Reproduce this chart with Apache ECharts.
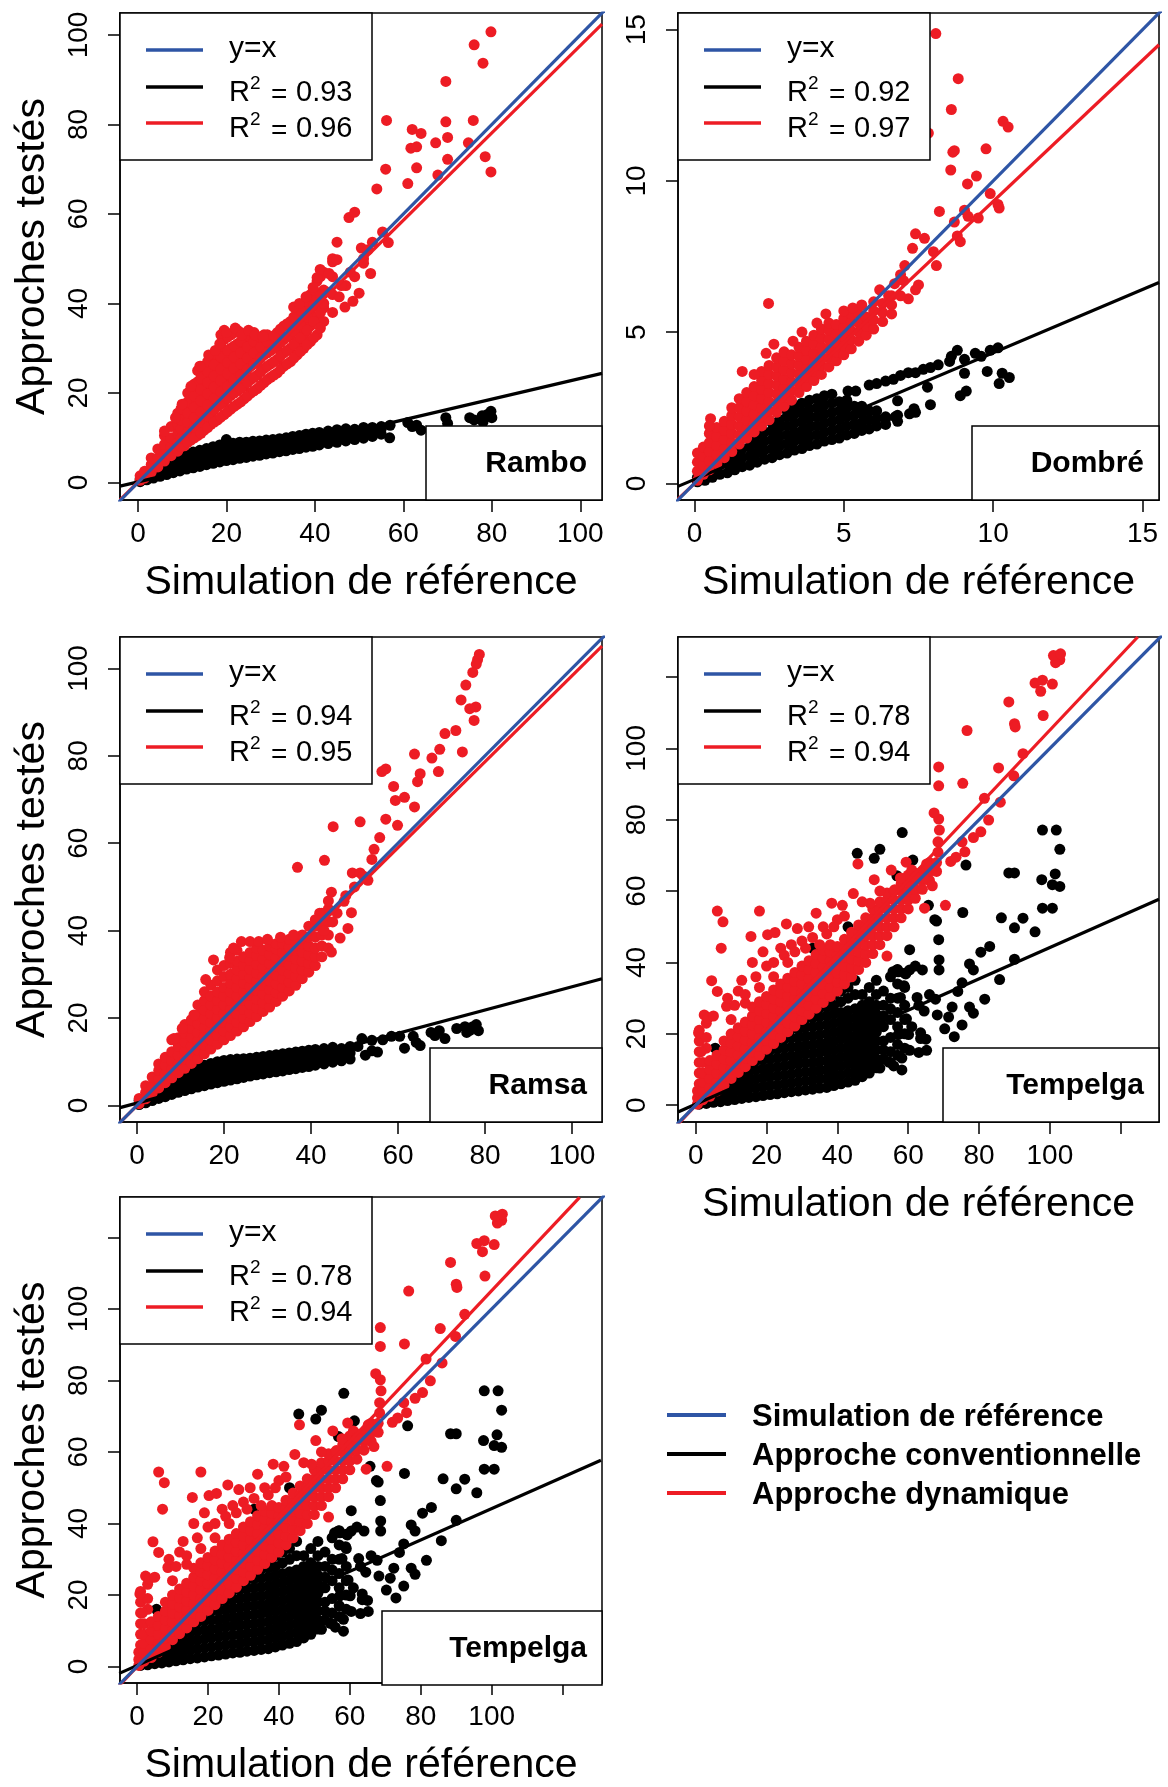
<!DOCTYPE html>
<html><head><meta charset="utf-8">
<script src="https://cdn.jsdelivr.net/npm/echarts@6/dist/echarts.min.js"></script>
<style>html,body{margin:0;padding:0;background:#fff}#c{width:1168px;height:1787px}</style>
</head><body><div id="c"></div>
<script>
const FONT = '"Liberation Sans", Arial, Helvetica, sans-serif';
const RED = '#ed1c24', BLUE = '#2e55a5', BLACK = '#000000';

// ---------- tick values ----------
const ticks100 = [0, 20, 40, 60, 80, 100];
const ticks15 = [0, 5, 10, 15];
const ticks120 = [0, 20, 40, 60, 80, 100, 120];
const identityLine = [[-20, -20], [200, 200]];

// ---------- Rambo ----------
// columns: [x, y1, y2, ...]
const ramboDynCols = [
 [0.5,0.5,1.5],[1.5,1,2.5],[3,2.3,4,5.5],[4.5,3.5,5.5,7.5],[6,4.8,6.5,8.5,10.5],[7.5,6,8,10,12.5],
 [9,7,9,11,13,15.5],[10.5,8.2,10.5,12.5,14.5,17],[12,9.5,11.5,13.5,16,18.5,21],[13.5,10.5,13,15,17.5,20,22.5,25],
 [15,11.7,14,16.5,19,21.5,24,26],[16.5,13,15.5,18,20.5,23,25.5,28],[18,14,17,19.5,22,24.5,27,29.5],
 [19.5,15.2,18,21,23.5,26,29,32,34],[21,16.4,19.5,22,25,27.5,30,33],[22.5,17.5,20.5,23.5,26,28.5,31,34],
 [24,18.7,21.5,24.5,27,29.5,32],[25.5,20,23,26,28.5,31,33.5],[27,21,24,27,29.5,32],[28.5,22.3,25.5,28.5,31,33],
 [30,23.5,26.5,29.5,32],[31.5,24.5,27.5,30.5,33.5],[33,26,29,32,35],[34.5,27,30,33,36],[36,28.5,31.5,34.5,38],
 [37.5,30,33,36,39],[39,31.5,35,38,42],[40.5,33,37,41,45],[42,36,39,43,47],[44,38,42,46,50]
];
const ramboDynCols2 = [
 [9.75,8,10,12,14,16.5],[11.25,9,11.3,13.5,15.5,18,20],[12.75,10,12.3,14.5,16.8,19.3,22],
 [14.25,11,13.5,15.8,18.3,20.8,23.3,26],[15.75,12.3,14.8,17.3,19.8,22.3,24.8,27],[17.25,13.5,16.3,18.8,21.3,23.8,26.3,28.8],
 [18.75,14.6,17.5,20.3,22.8,25.3,28,30.5,33],[20.25,15.8,18.8,21.5,24.3,26.8,29.5,32.5],[21.75,17,20,22.8,25.5,28,30.5,33.5],
 [23.25,18,21,24,26.5,29,31.5,33.5],[24.75,19.3,22.3,25.3,27.8,30.3,32.8],[26.25,20.5,23.5,26.5,29,31.5,33.5],
 [27.75,21.7,24.8,27.8,30.3,32.5],[29.25,23,26,29,31.5,33],[30.75,24,27,30,32.8],[32.25,25.3,28.3,31.3,34.3],
 [33.75,26.5,29.5,32.5,35.5],[35.25,27.8,30.8,33.8,37],[36.75,29.3,32.3,35.3,38.5],[38.25,30.8,34,37,40.5],
 [39.75,32.3,36,39.5,43],[41.25,34.5,38,42,46]
];
const ramboDynOut = [
 [8.5,14.5],[6,11.5],[10,17.5],[12,21.5],[14,26],[16,28.5],[17.5,29.5],[18.5,31],[20,33.5],[22,34.5],[23.5,33],[25,34],
 [26.5,33],[28.3,32.6],[35.2,39.2],[36.5,40],[38,41.5],[39.6,43.6],[40.5,45.8],[41.2,47.6],[43.2,46.7],[44,49.3],[45,49.8],
 [45,53.7],[47.7,59.2],[49,60.4],[50.5,52.4],[52.6,46.7],[50,42.3],[48.6,40.5],[46.8,39.2],[45.5,41.5],[47,44],[49,46],
 [51,49],[53,53.7],[55.3,56],[56.6,53.6],[54,65.6],[56,70],[56.2,80.9],[61,66.8],[61.7,74.7],[62,78.9],[63,75],[63,70.3],
 [64,78],[67.3,75.9],[67.8,68.7],[69.6,89.6],[69.6,80.6],[70,77.1],[70,72.2],[74.7,75.9],[75.8,80.9],[76,97.8],[78,93.7],
 [78.5,72.8],[79.8,69.4],[79.8,100.7],[42,40],[43.5,42.5],[46,44],[48,47],[51,50],[52,52]
];
const ramboConvCols = [
 [0.5,0.2,0.8],[2,0.6,1.3],[3.5,1,1.8],[5,1.4,2.5,3.3],[6.5,1.8,2.8,3.8],[8,2.2,3.2,4.4],[9.5,2.6,3.6,4.8,5.8],
 [11,3,4,5.2,6.3],[12.5,3.3,4.4,5.5,6.8],[14,3.6,4.8,6,7.2],[15.5,4,5,6.2,7.6],[17,4.3,5.4,6.6,8],[18.5,4.6,5.7,7,8.4],
 [20,4.9,6,7.3,8.7,9.6],[21.5,5.1,6.3,7.6,8.8],[23,5.4,6.5,7.8,9],[24.5,5.6,6.8,8,9],[26,5.9,7,8.2,9.2],
 [27.5,6.1,7.3,8.4,9.3],[29,6.4,7.5,8.6,9.5],[30.5,6.6,7.8,8.9,9.6],[32,6.9,8,9.1,9.8],[33.5,7.1,8.3,9.4,10],
 [35,7.4,8.5,9.6,10.3],[36.5,7.6,8.8,9.8,10.5],[38,7.9,9,10,10.8],[39.5,8.1,9.2,10.3,11],[41,8.4,9.4,10.5,11.2],
 [43,8.7,9.8,10.8,11.5],[45,9,10,11,11.8],[47,9.3,10.4,11.5,12],[49,9.6,10.8,11.9],[51,9.9,11,12.3],[53,10.3,11.5,12.3],
 [55,10.8,12,12.5]
];
const ramboConvOut = [
 [56.9,10],[57,12.8],[61,13.4],[62,12.5],[63,12.8],[64,11.7],[69.6,14.5],[70,13.2],[75,14.5],[76,14],[77.8,14.9],
 [78,13.5],[79.8,15.9],[80,14.5],[79,15.2]
];
const ramboFitConv = [[-4.05, -0.8], [104.9, 24.4]];
const ramboFitDyn = [[-4.05, -3.9], [104.9, 102.4]];

// ---------- Dombré ----------
const dombreDynCols = [
 [0.1,0.1,0.4,0.7,1.0],[0.3,0.3,0.6,0.9,1.2],[0.5,0.45,0.75,1.05,1.35,1.65],[0.75,0.65,0.95,1.25,1.55,1.85],
 [1.0,0.85,1.15,1.45,1.75,2.05],[1.25,1.05,1.35,1.65,1.95,2.25,2.5],[1.5,1.3,1.6,1.9,2.2,2.5,2.8],
 [1.75,1.5,1.8,2.1,2.4,2.7,3.0],[2.0,1.7,2.0,2.3,2.6,2.9,3.2],[2.25,1.9,2.2,2.5,2.8,3.1,3.4,3.7],
 [2.5,2.1,2.4,2.7,3.0,3.3,3.6,3.9],[2.75,2.35,2.65,2.95,3.25,3.55,3.85,4.15],[3.0,2.55,2.85,3.15,3.45,3.75,4.05,4.35],
 [3.25,2.75,3.05,3.35,3.65,3.95,4.25],[3.5,3.0,3.3,3.6,3.9,4.2,4.5],[3.75,3.2,3.5,3.8,4.1,4.4,4.7],
 [4.0,3.4,3.7,4.0,4.3,4.6,4.9],[4.25,3.6,3.9,4.2,4.5,4.8,5.1],[4.5,3.85,4.15,4.45,4.75,5.05,5.3],
 [4.75,4.05,4.35,4.65,4.95,5.25],[5.0,4.25,4.55,4.85,5.15,5.45],[5.25,4.45,4.75,5.05,5.35,5.6],[5.5,4.7,5.0,5.3,5.6],
 [5.75,4.9,5.2,5.5],[6.0,5.1,5.4,5.7],[6.3,5.35,5.65,5.95],[6.6,5.6,5.9,6.2]
];
const dombreDynOut = [
 [8.08,14.87],[8.83,13.38],[8.6,12.36],[10.33,11.97],[10.5,11.78],[7.83,11.58],[8.65,10.95],[8.7,11.0],[9.76,11.06],
 [8.58,10.36],[9.44,10.16],[9.14,9.9],[8.2,8.99],[9.9,9.58],[10.16,9.22],[10.2,9.1],[8.7,8.64],[9.04,9.03],[9.16,8.83],
 [9.5,8.77],[8.8,8.18],[8.9,7.99],[7.4,8.25],[7.7,8.1],[7.3,7.77],[8.0,7.66],[8.1,7.2],[7.04,7.2],[7.5,6.56],[7.4,6.4],
 [7.16,6.1],[6.9,6.2],[6.5,6.2],[2.48,5.95],[6.2,6.4],[6.7,6.6],[6.9,6.9],[7.0,6.7],[1.6,3.7],[2.0,3.6],[2.66,4.6],
 [2.4,4.3],[0.54,2.14],[0.5,1.9],[3.3,4.7],[3.6,5.0],[4.1,5.3],[4.4,5.6],[5.0,5.7],[5.3,5.8],[5.6,5.9],[6.0,6.0]
];
const dombreConvCols = [
 [0.1,0.05,0.2],[0.35,0.1,0.3],[0.6,0.2,0.45],[0.85,0.3,0.6],[1.1,0.35,0.65,0.95],[1.35,0.45,0.75,1.05],
 [1.6,0.55,0.85,1.15],[1.85,0.6,0.9,1.2,1.45],[2.1,0.7,1.0,1.3,1.6],[2.35,0.8,1.1,1.4,1.7],[2.6,0.85,1.15,1.45,1.75,2.0],
 [2.85,0.95,1.25,1.55,1.85,2.1],[3.1,1.0,1.3,1.6,1.9,2.2,2.4],[3.35,1.1,1.4,1.7,2.0,2.3,2.55],
 [3.6,1.15,1.45,1.75,2.05,2.35,2.65],[3.85,1.25,1.55,1.85,2.15,2.45,2.75],[4.1,1.3,1.6,1.9,2.2,2.5,2.8],
 [4.35,1.4,1.7,2.0,2.3,2.6,2.9],[4.6,1.45,1.75,2.05,2.35,2.65,2.95],[4.85,1.5,1.8,2.1,2.4,2.7],
 [5.1,1.6,1.9,2.2,2.5,2.75],[5.35,1.65,1.95,2.25,2.55],[5.6,1.75,2.0,2.3,2.55],[5.85,1.8,2.1,2.4],[6.1,1.9,2.15,2.4],
 [6.4,1.95,2.2],[6.8,2.05,2.25],[7.2,2.3]
];
const dombreConvOut = [
 [5.14,3.05],[5.4,3.05],[5.85,3.25],[6.1,3.3],[6.4,3.38],[6.66,3.44],[6.9,3.57],[7.16,3.66],[7.4,3.66],[7.66,3.77],
 [7.9,3.83],[8.16,3.92],[8.54,4.03],[8.8,4.4],[8.6,4.2],[9.04,4.1],[9.4,4.3],[9.6,4.2],[9.9,4.4],[10.16,4.48],[9.8,3.7],
 [9.04,3.64],[10.2,3.3],[10.3,3.64],[10.54,3.5],[8.9,2.9],[9.1,3.05],[7.9,2.6],[7.35,2.47],[7.4,2.35],[6.8,2.73],
 [7.8,3.18],[6.72,2.2],[6.4,2.14]
];
const dombreFitConv = [[-0.55, -0.1], [15.55, 6.64]];
const dombreFitDyn = [[-0.55, -0.52], [15.55, 14.5]];

// ---------- Ramsa ----------
const ramsaDynCols = [
 [0.5,0.4,1.6],[2,1.5,3,4.5],[3.5,2.8,4.5,6.5],[5,4,6,8,9.5],[6.5,5.2,7.2,9.2,11],[8,6.3,8.3,10.3,12.3,15],
 [9.5,7.5,9.5,11.5,13.5,15.5],[11,8.5,10.5,12.5,14.5,16.5,18.5],[12.5,9.6,11.6,13.6,15.6,17.6,19.6],
 [14,10.7,12.7,14.7,16.7,18.7,20.7,23],[15.5,11.8,13.8,15.8,17.8,19.8,21.8,24,26],[17,12.9,15,17,19,21,23,25,27.5],
 [18.5,14,16,18,20,22,24,26,28.5,31],[20,15,17,19,21,23,25,27,29.5,32],[21.5,16,18,20,22,24,26,28,30,32.5,35],
 [23,17,19,21,23,25,27,29,31,33,35.5],[24.5,18,20,22,24,26,28,30,32,34],[26,19.2,21.2,23.2,25.2,27.2,29.2,31.2,33.2,35],
 [27.5,20.3,22.3,24.3,26.3,28.3,30.3,32.3,34.3,36],[29,21.5,23.5,25.5,27.5,29.5,31.5,33.5,35.5],
 [30.5,22.5,24.5,26.5,28.5,30.5,32.5,34.5,36.5],[32,23.8,25.8,27.8,29.8,31.8,33.8,35.8,37],
 [33.5,25,27,29,31,33,35,37],[35,26.2,28.2,30.2,32.2,34.2,36.2,38],[36.5,27.5,29.5,31.5,33.5,35.5,37.5],
 [38,29,31,33,35,37,39],[39.5,30.5,32.5,34.5,36.5,38.5,41],[41,32,34,36,38.5,41],[42.5,34,36.5,39,42,44],[44,36,39,42,45]
];
const ramsaDynOut = [
 [78.7,103.2],[78.3,102],[78,101],[77.2,99.1],[75.6,96.2],[74.5,92.8],[77.9,91.2],[76.5,90.8],[77.5,88.1],[74.8,80.9],
 [73.3,85.8],[70.8,85.1],[69.6,81.5],[67.8,79.5],[69.3,76.4],[65.1,75.9],[64.5,74.1],[63.8,80.4],[63.8,68.3],[61.5,70.5],
 [57.2,77],[56.3,76.4],[59,73],[59.4,69.8],[59.9,64.1],[57.2,65.5],[55.8,61.3],[54.5,58.6],[54,56.3],[51.3,64.9],
 [45.1,63.8],[43.1,56.1],[36.9,54.5],[49.5,53.2],[51.3,53.2],[53.1,51.5],[44.7,48.8],[44,46.8],[47.6,46.7],[49.3,44.1],
 [48.5,40.5],[46.7,38.3],[44.7,35.1],[46,44],[48,48],[50,50],[52,52.5],[42,44],[41,42.5],[43,40],[45,42],[10.4,17.6],
 [8.5,15.3],[13.1,20.7],[15.8,28.8],[17.6,33.3],[21.3,33.8],[22.2,36],[24,37.5],[26,37.5],[28,37.5],[30,38],[33,38.5],
 [36,39]
];
const ramsaConvCols = [
 [0.5,0.2,1.2],[2,0.6,1.8],[3.5,1.1,2.5],[5,1.6,3,4.2],[6.5,2,3.4,5],[8,2.5,4,5.5],[9.5,3,4.4,6],[11,3.4,4.8,6.4],
 [12.5,3.8,5.2,6.8,8],[14,4.2,5.6,7.2,8.6],[15.5,4.5,6,7.6,9.2],[17,4.9,6.4,8,9.6],[18.5,5.2,6.7,8.4,10],
 [20,5.5,7,8.6,10.3],[21.5,5.8,7.3,8.9,10.5],[23,6.1,7.6,9.2,10.6],[24.5,6.4,7.9,9.4,10.7],[26,6.7,8.2,9.7,10.8],
 [27.5,7,8.4,9.9,11],[29,7.2,8.7,10.1,11.2],[30.5,7.5,9,10.4,11.4],[32,7.7,9.2,10.6,11.6],[33.5,7.9,9.4,10.8,11.8],
 [35,8.2,9.6,11,12],[36.5,8.4,9.9,11.3,12.2],[38,8.7,10.1,11.5,12.4],[39.5,8.9,10.3,11.7,12.6],[41,9.2,10.5,11.9,12.8],
 [43,9.5,10.9,12.2,13],[45,9.9,11.2,12.6,13.3],[47,10.2,11.6,13],[49,10.6,12,13.5]
];
const ramsaConvOut = [
 [50.8,13.5],[51.7,15.3],[54,14.9],[55.3,12.2],[56.5,15],[58.5,15.8],[60.4,15.8],[61.5,13.1],[63.5,15.8],[64.2,14.4],
 [65.1,13.7],[67.6,16.7],[69.5,17.1],[70.8,15.3],[68.5,16],[73.5,17.6],[75.4,18],[75.8,16.7],[77.2,18],[78,18.5],
 [78.5,17.1],[76.5,17.2],[52.5,11.5],[54,12.5]
];
const ramsaFitConv = [[-3.9, -0.5], [106.9, 29]];
const ramsaFitDyn = [[-3.9, -3.9], [106.9, 105.1]];

// ---------- Tempelga ----------
const tempDynCols = [
 [0.5,0.3,2,4],[1,6,9,12,15,18,21],[2,1.5,4,6.5,9,12],[3,16,19,23],[4,2.5,5,7.5,10,12.5],[6,4,6.5,9,11.5,14],
 [8,5.5,8,10.5,13,15.5,18],[10,7.5,10,12.5,15,17.5,20],[12,9.2,11.7,14.2,16.7,19.2,21.7],[14,10.8,13.3,15.8,18.3,20.8,23.3],
 [16,12.5,15,17.5,20,22.5,25,27.5],[18,14,16.5,19,21.5,24,26.5,29],[20,15.7,18.2,20.7,23.2,25.7,28.2,30.5],
 [22,17.3,19.8,22.3,24.8,27.3,29.8,32.3],[24,19,21.5,24,26.5,29,31.5,34],[26,20.6,23.1,25.6,28.1,30.6,33.1,35.6],
 [28,22.2,24.7,27.2,29.7,32.2,34.7,37.2],[30,24,26.5,29,31.5,34,36.5,39],[32,25.5,28,30.5,33,35.5,38,40.5],
 [34,27.2,29.7,32.2,34.7,37.2,39.7,42.2],[36,28.8,31.3,33.8,36.3,38.8,41.3,43.5],[38,30.5,33,35.5,38,40.5,43,45],
 [40,32,34.5,37,39.5,42,44.5],[42,34,36.5,39,41.5,44,46.5],[44,36,38.5,41,43.5,46,48.5],[46,38,40.5,43,45.5,48,50.5],
 [48,40,42.5,45,47.5,50,52.5],[50,42.5,45,47.5,50,52.5,55],[52,45,47.5,50,52.5,55,57],[54,47.5,50,52.5,55,57.5,59.5],
 [56,50,52.5,55,57.5,60],[58,52.5,55,57.5,60,62],[60,55,57.5,60,62.5,64.5],[62,58,60.5,63,65],[64,60.5,63,65.5],
 [66,63,65.5,68],[68,65.5,68]
];
const tempDynOut = [
 [102.1,125.9],[102.8,124.8],[101.6,124],[101,126],[103,126.5],[95.8,118.3],[97.9,119.1],[97.4,116],[100.7,118],
 [98.1,109.2],[88.4,113],[90,106.9],[90.2,106],[76.6,105],[92.4,98.5],[89.8,92.3],[85.5,94.5],[75.4,90.2],[68.6,94.8],
 [68.6,89.5],[81.5,86],[86,84.9],[82.7,79.9],[80.5,76.6],[78.4,75],[75.2,73.8],[76,71],[72,68.3],[73.5,69.5],[68.6,80.2],
 [67.3,81.9],[68.8,77.1],[68.4,73.8],[68.4,70.9],[65.2,67.6],[66.8,61.5],[70.5,56],[64.6,55.2],[64.4,63.7],[61,65.9],
 [59.4,68.1],[57.8,63.7],[56.2,60.4],[54,41.8],[6.1,54.4],[7.7,51.4],[7.2,44],[4.5,34.9],[6.1,31.9],[18,54.4],[15.6,47.3],
 [20.3,47.8],[22.4,48.4],[25.6,50.8],[28.7,49.5],[31.9,50],[34,53.8],[38.4,56.6],[41.4,56],[44.5,59.3],[45.8,67.6],
 [50.4,63.2],[49.2,56.6],[55.2,65.9],[0.8,20.3],[2.4,25.3],[3.5,24.5],[1.5,15],[8.7,27.7],[11,28],[14,28.6],[12,32],
 [17,36],[20,39],[24,44],[27,45],[30,46],[36,50],[40,52],[47,57],[52,60],[62,64],
 [5,25],[9,30],[13,35],[16,40],[19,43],[22,40],[25,42],[28,43],[31,44],[33,47],[35,45],[37,48],[39,50],[42,53],
 [10,24],[18,33],[26,40],[14,31],[22,36]
];
const tempConvCols = [
 [1,0.3,1.2],[3,0.5,2,3.5],[5,0.8,2.5,4.5],[7,1,3,5,6.5],[9,1.3,3.5,5.5,7.5],[11,1.6,4,6.3,8.6],[13,1.9,4.2,6.6,9,11.3],
 [15,2.2,4.6,7,9.5,12,13.8],[17,2.4,4.9,7.4,9.9,12.4,15],[19,2.7,5.2,7.7,10.2,12.7,15.2,17.5],
 [21,3,5.5,8,10.5,13,15.5,18],[23,3.2,5.7,8.2,10.7,13.2,15.7,18.2,20.7],[25,3.5,6,8.5,11,13.5,16,18.5,21,23],
 [27,3.8,6.3,8.8,11.3,13.8,16.3,18.8,21.3,24],[29,4,6.5,9,11.5,14,16.5,19,21.5,24,26.5],
 [31,4.3,6.8,9.3,11.8,14.3,16.8,19.3,21.8,24.3,27],[33,4.5,7,9.5,12,14.5,17,19.5,22,24.5,27,29.5],
 [35,4.8,7.3,9.8,12.3,14.8,17.3,19.8,22.3,24.8,27.3,30],[37,5,7.5,10,12.5,15,17.5,20,22.5,25,27.5,30,32],
 [39,5.5,8,10.5,13,15.5,18,20.5,23,25.5,28,31],[41,6,8.5,11,13.5,16,18.5,21,23.5,26,29,32],
 [43,6.5,9,11.5,14,16.5,19,21.5,24,26.5,30,33],[45,7,9.5,12,14.5,17,19.5,22,24.5,27,31,35],
 [47,8,10.5,13,15.5,18,20.5,23,25.5,28,31],[49,9,11.5,14,16.5,19,21.5,24,26.5,29,33],
 [51,10.5,13,15.5,18,20.5,23,25.5,28,31,35],[53,13,15.5,18,22,25,28,32],[55,12,15,19,24,27,30,36],
 [57,14,17,22,26,30,34,38],[59,16,20,24,28,33,37]
];
const tempConvOut = [
 [45.6,70.6],[52,71.7],[50.4,69.2],[58.3,76.4],[61.3,68.7],[56.8,64.3],[65.7,56],[68,51.6],[68.6,46.4],[68.7,40.7],
 [68.7,37.9],[67.5,52],[76.3,67.3],[75.4,54],[86.3,52.5],[90,49.7],[92.4,52.4],[88.4,65.1],[90,65.1],[97.9,77.1],
 [101.8,77.1],[102.8,71.7],[97.7,63.2],[101.5,64.8],[100.7,61.8],[102.8,61.3],[97.9,55.2],[100.7,55.2],[95.8,48.6],
 [90,40.9],[85.8,35.2],[83,44.5],[80.5,42.9],[78.4,37.9],[77.3,39.6],[75.2,34.3],[74,31.9],[77.3,27.5],[81.6,29.7],
 [78.4,25.8],[75.2,22.5],[73,19.2],[70.3,21.4],[71.4,24.7],[72.4,27.5],[68.2,25.3],[64.5,26.4],[63,28],[67.7,29.7],
 [66,31],[63.5,20.3],[63.5,18.7],[65,18.5],[63,14.8],[60.4,15.4],[58.2,13.2],[58.2,9.9],[55.9,11],[54.5,12.1],[52,10.4],
 [64,37.9],[60.4,37.9],[59.3,36.8],[57.2,37.4],[57.8,30.2],[58.8,33.5],[62.5,30.2],[59.5,24.2],[60.1,19.8],[57.2,19.8],
 [61,22],[65.2,15.4],[60.4,43.6],[62,39],[33,44],[43,50],[55.7,37.4],[56.8,37.9],[5.5,16]
];
const tempFitConv = [[-5, -1.9], [130.8, 57.7]];
const tempFitDyn = [[-5, -5.3], [124.8, 131.2]];

// ---------- texts ----------
const xTitle = 'Simulation de référence';
const yTitle = 'Approches testés';
const legendTexts = ['Simulation de référence', 'Approche conventionnelle', 'Approche dynamique'];

function cols(arr) {
  const out = [];
  arr.forEach(r => { for (let i = 1; i < r.length; i++) out.push([r[0], r[i]]); });
  return out;
}

const panels = [
  { label: 'Rambo', g: {left:120, top:13, width:482, height:487}, xr:[-4.05,104.9], yr:[-3.9,104.9],
    tx: ticks100, lx: ticks100, ty: ticks100, ly: ticks100,
    conv: cols(ramboConvCols).concat(ramboConvOut),
    dyn: cols(ramboDynCols).concat(cols(ramboDynCols2), ramboDynOut),
    fc: ramboFitConv, fd: ramboFitDyn, r2: ['0.93', '0.96'], bw: 176, xt: true, yt: true },
  { label: 'Dombré', g: {left:678, top:13, width:481, height:487}, xr:[-0.55,15.55], yr:[-0.55,15.55],
    tx: ticks15, lx: ticks15, ty: ticks15, ly: ticks15,
    conv: cols(dombreConvCols).concat(dombreConvOut), dyn: cols(dombreDynCols).concat(dombreDynOut),
    fc: dombreFitConv, fd: dombreFitDyn, r2: ['0.92', '0.97'], bw: 187, xt: true, yt: false },
  { label: 'Ramsa', g: {left:120, top:637, width:482, height:485}, xr:[-3.9,106.9], yr:[-3.8,107.2],
    tx: ticks100, lx: ticks100, ty: ticks100, ly: ticks100,
    conv: cols(ramsaConvCols).concat(ramsaConvOut), dyn: cols(ramsaDynCols).concat(ramsaDynOut),
    fc: ramsaFitConv, fd: ramsaFitDyn, r2: ['0.94', '0.95'], bw: 172, xt: false, yt: true },
  { label: 'Tempelga', g: {left:678, top:637, width:481, height:485}, xr:[-5,130.8], yr:[-4.7,131.2],
    tx: ticks120, lx: ticks100, ty: ticks120, ly: ticks100,
    conv: cols(tempConvCols).concat(tempConvOut), dyn: cols(tempDynCols).concat(tempDynOut),
    fc: tempFitConv, fd: tempFitDyn, r2: ['0.78', '0.94'], bw: 216, xt: true, yt: false },
  { label: 'Tempelga', g: {left:120, top:1197, width:482, height:488}, xr:[-4.8,131.1], yr:[-4.6,131.3],
    tx: ticks120, lx: ticks100, ty: ticks120, ly: ticks100,
    conv: cols(tempConvCols).concat(tempConvOut), dyn: cols(tempDynCols).concat(tempDynOut),
    fc: tempFitConv, fd: tempFitDyn, r2: ['0.78', '0.94'], bw: 220, xt: true, yt: true }
];

const grid = [], xAxis = [], yAxis = [], series = [], graphic = [];
const axisLineStyle = {color: BLACK, width: 1.5};
panels.forEach((p, i) => {
  grid.push(Object.assign({show: true, borderColor: BLACK, borderWidth: 1.5, backgroundColor: 'transparent'}, p.g));
  xAxis.push({
    gridIndex: i, type: 'value', min: p.xr[0], max: p.xr[1],
    axisLine: {show: true, onZero: false, lineStyle: axisLineStyle},
    axisTick: {show: true, inside: false, length: 12, lineStyle: axisLineStyle, customValues: p.tx},
    axisLabel: {show: true, customValues: p.lx, fontSize: 28, color: BLACK, fontFamily: FONT, margin: 20},
    splitLine: {show: false},
    name: p.xt ? xTitle : '', nameLocation: 'middle', nameGap: 62,
    nameTextStyle: {fontSize: 41, color: BLACK, fontFamily: FONT}
  });
  yAxis.push({
    gridIndex: i, type: 'value', min: p.yr[0], max: p.yr[1],
    axisLine: {show: true, onZero: false, lineStyle: axisLineStyle},
    axisTick: {show: true, inside: false, length: 12, lineStyle: axisLineStyle, customValues: p.ty},
    axisLabel: {show: true, customValues: p.ly, fontSize: 28, color: BLACK, fontFamily: FONT, margin: 27, rotate: 90},
    splitLine: {show: false},
    name: p.yt ? yTitle : '', nameLocation: 'middle', nameGap: 67,
    nameTextStyle: {fontSize: 41, color: BLACK, fontFamily: FONT}
  });
  const common = {xAxisIndex: i, yAxisIndex: i, silent: true, animation: false};
  series.push(Object.assign({type: 'scatter', data: p.conv, symbolSize: 11, itemStyle: {color: BLACK, opacity: 1}, z: 2, large: false, progressive: 0}, common));
  series.push(Object.assign({type: 'scatter', data: p.dyn, symbolSize: 11, itemStyle: {color: RED, opacity: 1}, z: 3, large: false, progressive: 0}, common));
  series.push(Object.assign({type: 'line', data: p.fc, symbol: 'none', lineStyle: {color: BLACK, width: 3.2}, z: 5, clip: true}, common));
  series.push(Object.assign({type: 'line', data: p.fd, symbol: 'none', lineStyle: {color: RED, width: 3.2}, z: 6, clip: true}, common));
  series.push(Object.assign({type: 'line', data: identityLine, symbol: 'none', lineStyle: {color: BLUE, width: 3.2}, z: 7, clip: true}, common));

  // in-panel legend (top-left)
  const L = p.g.left, T = p.g.top;
  graphic.push({type: 'rect', z: 100, shape: {x: L, y: T, width: 252, height: 147}, style: {fill: '#fff', stroke: BLACK, lineWidth: 1.5}});
  [[37, BLUE], [74, BLACK], [110, RED]].forEach(r => {
    graphic.push({type: 'line', z: 101, shape: {x1: L + 26, y1: T + r[0], x2: L + 83, y2: T + r[0]}, style: {stroke: r[1], lineWidth: 3.5}});
  });
  const tStyle = (txt, x, y, size) => ({type: 'text', z: 102, x: x, y: y,
    style: {text: txt, fill: BLACK, font: size + 'px ' + FONT, textAlign: 'left', textVerticalAlign: 'middle'}});
  graphic.push(tStyle('y=x', L + 109, T + 36, 30));
  [[80, p.r2[0]], [116, p.r2[1]]].forEach(r => {
    graphic.push(tStyle('R', L + 109, T + r[0], 29));
    graphic.push(tStyle('2', L + 130, T + r[0] - 9, 19));
    graphic.push(tStyle('=', L + 151, T + r[0] + 2, 28));
    graphic.push(tStyle(r[1], L + 176, T + r[0], 29));
  });
  // station label box (bottom-right)
  const R = p.g.left + p.g.width, B = p.g.top + p.g.height;
  graphic.push({type: 'rect', z: 100, shape: {x: R - p.bw, y: B - 74, width: p.bw, height: 74}, style: {fill: '#fff', stroke: BLACK, lineWidth: 1.5}});
  graphic.push({type: 'text', z: 102, x: R - 15, y: B - 36,
    style: {text: p.label, fill: BLACK, font: 'bold 30px ' + FONT, textAlign: 'right', textVerticalAlign: 'middle'}});
});

// global legend
[[1415, BLUE], [1454, BLACK], [1493, RED]].forEach((r, k) => {
  graphic.push({type: 'line', z: 101, shape: {x1: 667, y1: r[0], x2: 726, y2: r[0]}, style: {stroke: r[1], lineWidth: 4}});
  graphic.push({type: 'text', z: 102, x: 752, y: r[0] + 2,
    style: {text: legendTexts[k], fill: BLACK, font: 'bold 31px ' + FONT, textAlign: 'left', textVerticalAlign: 'middle'}});
});

const chart = echarts.init(document.getElementById('c'), null, {renderer: 'canvas'});
chart.setOption({
  backgroundColor: '#ffffff',
  animation: false,
  grid: grid, xAxis: xAxis, yAxis: yAxis, series: series, graphic: graphic
});
</script>
</body></html>
